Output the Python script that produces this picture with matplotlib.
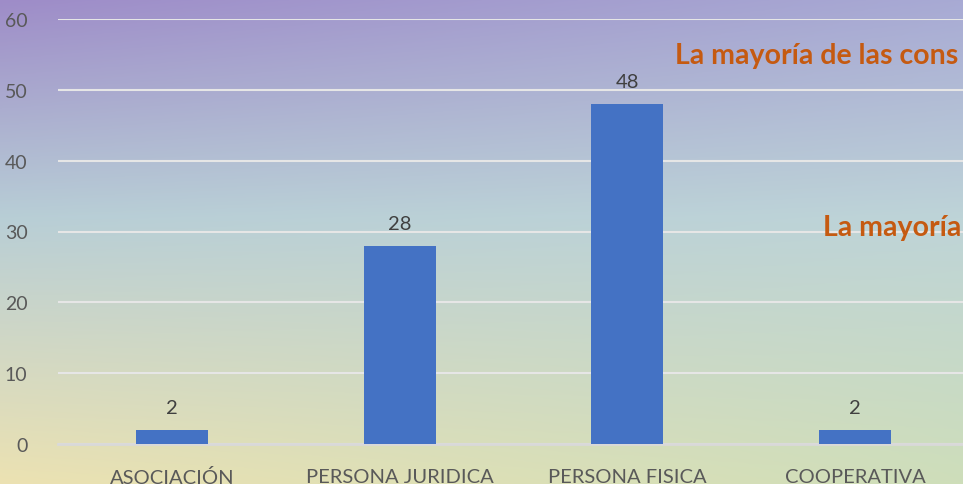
import numpy as np
import matplotlib
matplotlib.use("Agg")
import matplotlib.pyplot as plt

categories = ["ASOCIACIÓN", "PERSONA JURIDICA", "PERSONA FISICA", "COOPERATIVA"]
values = [2, 28, 48, 2]
y_ticks = [0, 10, 20, 30, 40, 50, 60]
note_top = "La mayoría de las cons"
note_mid = "La mayoría"

plt.rcParams['font.family'] = ['Lato', 'DejaVu Sans']

W, H = 963, 485
fig = plt.figure(figsize=(W / 100, H / 100), dpi=100)

# background gradient (watercolor-like)
bg = fig.add_axes([0, 0, 1, 1], zorder=-10)
bg.set_axis_off()
ny, nx = 200, 400
yy = np.linspace(0, 1, ny)[:, None]
xx = np.linspace(0, 1, nx)[None, :]
rows = np.array([0.0, 0.45, 1.0])
left = np.array([[158, 140, 200], [184, 206, 214], [236, 226, 178]]) / 255
right = np.array([[168, 170, 212], [190, 212, 216], [206, 222, 186]]) / 255
img = np.zeros((ny, nx, 3))
for c in range(3):
    lc = np.interp(yy[:, 0], rows, left[:, c])[:, None]
    rc = np.interp(yy[:, 0], rows, right[:, c])[:, None]
    img[:, :, c] = lc * (1 - xx) + rc * xx
bg.imshow(img, aspect='auto', extent=[0, 1, 0, 1], origin='upper')
bg.set_xlim(0, 1)
bg.set_ylim(0, 1)

ax_l, ax_r = 58 / W, 969 / W
ax_b, ax_t = 1 - 445 / H, 1 - 20 / H
ax = fig.add_axes([ax_l, ax_b, ax_r - ax_l, ax_t - ax_b])
ax.patch.set_alpha(0)
x = np.arange(len(categories))
bars = ax.bar(x, values, width=0.316, color="#4472C4", zorder=3)
ax.set_xlim(-0.5, len(categories) - 0.5)
ax.set_ylim(0, 60)
ax.set_yticks(y_ticks)
ax.yaxis.grid(True, color="#e6e6e6", linewidth=1.5, zorder=1)
ax.set_axisbelow(True)
for s in ["top", "right", "left"]:
    ax.spines[s].set_visible(False)
ax.spines["bottom"].set_color("#d9d9d9")
ax.spines["bottom"].set_linewidth(2)
ax.tick_params(axis='y', length=0, labelsize=14, labelcolor="#595959", pad=22)
ax.tick_params(axis='x', length=0, labelsize=14.5, labelcolor="#595959", pad=17)
ax.set_xticks(x)
ax.set_xticklabels(categories)
for xi, v in zip(x, values):
    ax.annotate(str(v), (xi, v), xytext=(0, 10), textcoords="offset points",
                ha="center", va="bottom", fontsize=14.5, color="#404040")

fig.text(675 / W, 1 - 56 / H, note_top, fontsize=20.5, fontweight="bold",
         color="#C55A11", ha="left", va="center")
fig.text(823 / W, 1 - 228 / H, note_mid, fontsize=20.5, fontweight="bold",
         color="#C55A11", ha="left", va="center")

fig.savefig("out.png", dpi=100)
